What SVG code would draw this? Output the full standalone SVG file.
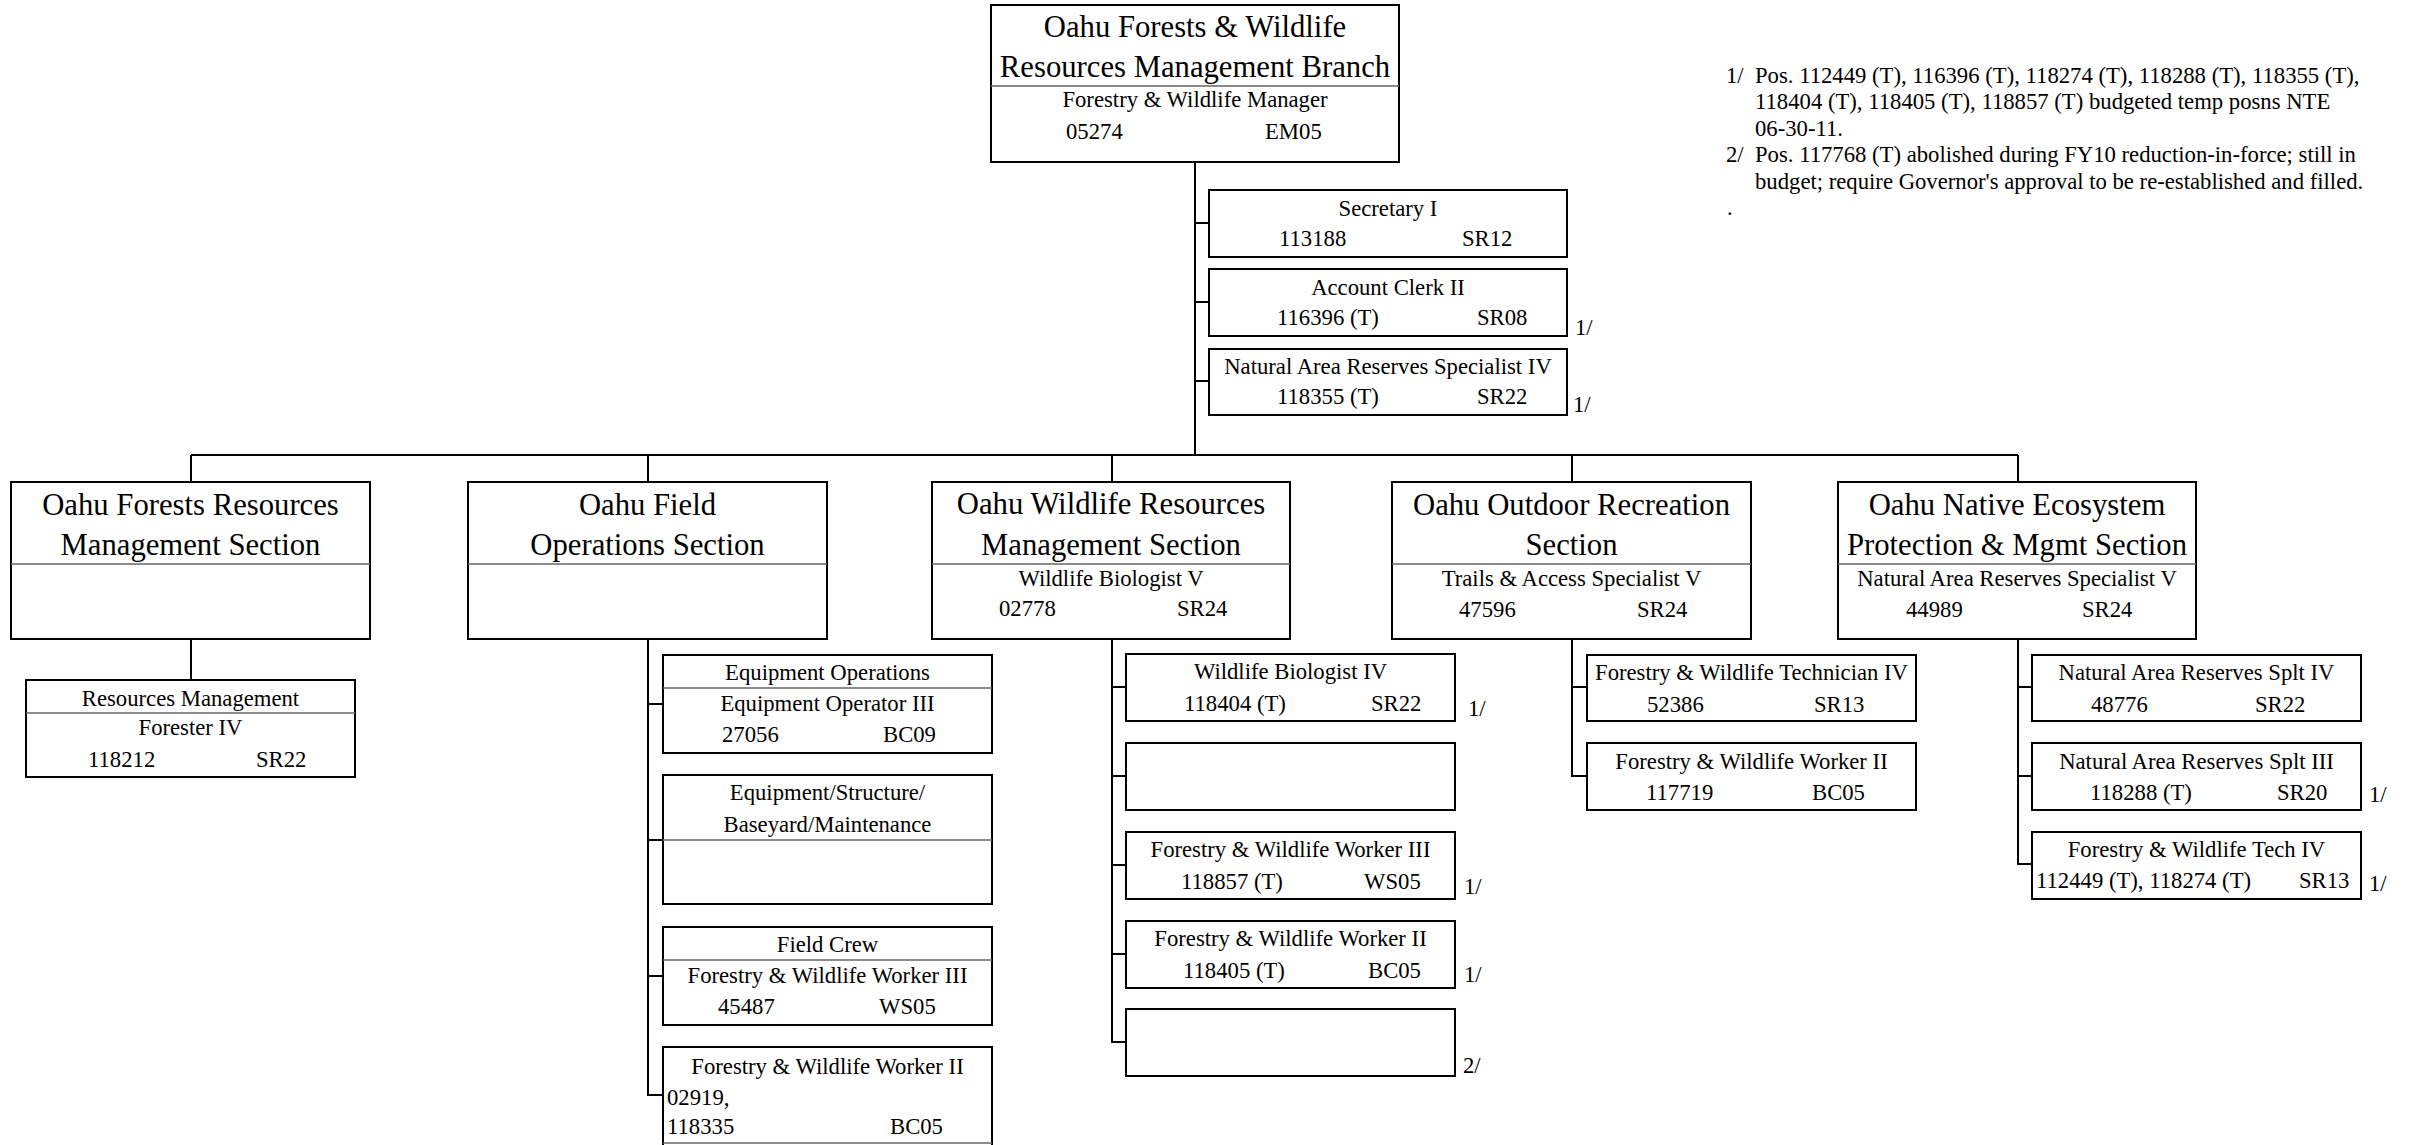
<svg xmlns="http://www.w3.org/2000/svg" width="2414" height="1145" viewBox="0 0 2414 1145">
<style>
.box{fill:#fff;stroke:#000;stroke-width:2}
.dv{stroke:#666;stroke-width:1.4}
.ln{stroke:#000;stroke-width:2;fill:none}
text{font-family:"Liberation Serif","Times New Roman",serif;font-size:22.7px;fill:#000}
.h{font-size:30.7px}
.c{text-anchor:middle}
</style>
<rect width="2414" height="1145" fill="#fff"/>
<g id="connectors">
<path class="ln" d="M1195,162V455M191,455H2018M191,455V482M648,455V482M1112,455V483M1572,455V482M2018,455V482"/>
<path class="ln" d="M1195,223H1209M1195,302H1209M1195,381H1209"/>
<path class="ln" d="M191,639V680"/>
<path class="ln" d="M648,639V1095H663M648,704H663M648,840H663M648,976H663"/>
<path class="ln" d="M1112,639V1042H1126M1112,687H1126M1112,776H1126M1112,865H1126M1112,954H1126"/>
<path class="ln" d="M1572,639V776H1587M1572,687H1587"/>
<path class="ln" d="M2018,639V864H2032M2018,687H2032M2018,776H2032"/>
</g>
<g id="branch">
<rect class="box" x="991" y="5" width="408" height="157"/>
<line class="dv" x1="991" y1="86" x2="1399" y2="86"/>
<text class="h c" x="1195" y="37">Oahu Forests &amp; Wildlife</text>
<text class="h c" x="1195" y="77">Resources Management Branch</text>
<text class="c" x="1195" y="107">Forestry &amp; Wildlife Manager</text>
<text x="1066" y="139">05274</text>
<text x="1265" y="139">EM05</text>
</g>
<g id="secretary">
<rect class="box" x="1209" y="190" width="358" height="67"/>
<text class="c" x="1388" y="216">Secretary I</text>
<text x="1279" y="246">113188</text>
<text x="1462" y="246">SR12</text>
</g>
<g id="account-clerk">
<rect class="box" x="1209" y="269" width="358" height="67"/>
<text class="c" x="1388" y="295">Account Clerk II</text>
<text x="1277" y="325">116396 (T)</text>
<text x="1477" y="325">SR08</text>
<text x="1575" y="335">1/</text>
</g>
<g id="nars-iv">
<rect class="box" x="1209" y="349" width="358" height="66"/>
<text class="c" x="1388" y="374">Natural Area Reserves Specialist IV</text>
<text x="1277" y="404">118355 (T)</text>
<text x="1477" y="404">SR22</text>
<text x="1573" y="412">1/</text>
</g>
<g id="notes">
<text x="1726" y="82.5">1/</text>
<text x="1755" y="82.5">Pos. 112449 (T), 116396 (T), 118274 (T), 118288 (T), 118355 (T),</text>
<text x="1755" y="109">118404 (T), 118405 (T), 118857 (T) budgeted temp posns NTE</text>
<text x="1755" y="135.5">06-30-11.</text>
<text x="1726" y="162">2/</text>
<text x="1755" y="162">Pos. 117768 (T) abolished during FY10 reduction-in-force; still in</text>
<text x="1755" y="188.5">budget; require Governor's approval to be re-established and filled.</text>
<text x="1727" y="215">.</text>
</g>
<g id="forests-section">
<rect class="box" x="11" y="482" width="359" height="157"/>
<line class="dv" x1="11" y1="564" x2="370" y2="564"/>
<text class="h c" x="190.5" y="515">Oahu Forests Resources</text>
<text class="h c" x="190.5" y="555">Management Section</text>
</g>
<g id="forester-iv">
<rect class="box" x="26" y="680" width="329" height="97"/>
<line class="dv" x1="26" y1="713" x2="355" y2="713"/>
<text class="c" x="190.5" y="706">Resources Management</text>
<text class="c" x="190.5" y="735">Forester IV</text>
<text x="88" y="767">118212</text>
<text x="256" y="767">SR22</text>
</g>
<g id="field-section">
<rect class="box" x="468" y="482" width="359" height="157"/>
<line class="dv" x1="468" y1="564" x2="827" y2="564"/>
<text class="h c" x="647.5" y="515">Oahu Field</text>
<text class="h c" x="647.5" y="555">Operations Section</text>
</g>
<g id="equipment-operations">
<rect class="box" x="663" y="655" width="329" height="98"/>
<line class="dv" x1="663" y1="688" x2="992" y2="688"/>
<text class="c" x="827.5" y="680">Equipment Operations</text>
<text class="c" x="827.5" y="711">Equipment Operator III</text>
<text x="722" y="742">27056</text>
<text x="883" y="742">BC09</text>
</g>
<g id="equipment-maintenance">
<rect class="box" x="663" y="775" width="329" height="129"/>
<line class="dv" x1="663" y1="840" x2="992" y2="840"/>
<text class="c" x="827.5" y="800">Equipment/Structure/</text>
<text class="c" x="827.5" y="832">Baseyard/Maintenance</text>
</g>
<g id="field-crew">
<rect class="box" x="663" y="927" width="329" height="98"/>
<line class="dv" x1="663" y1="960" x2="992" y2="960"/>
<text class="c" x="827.5" y="952">Field Crew</text>
<text class="c" x="827.5" y="983">Forestry &amp; Wildlife Worker III</text>
<text x="718" y="1014">45487</text>
<text x="879" y="1014">WS05</text>
</g>
<g id="field-worker-ii">
<rect class="box" x="663" y="1047" width="329" height="110"/>
<line class="dv" x1="663" y1="1143" x2="992" y2="1143"/>
<text class="c" x="827.5" y="1074">Forestry &amp; Wildlife Worker II</text>
<text x="667" y="1105">02919,</text>
<text x="667" y="1134">118335</text>
<text x="890" y="1134">BC05</text>
</g>
<g id="wildlife-section">
<rect class="box" x="932" y="482" width="358" height="157"/>
<line class="dv" x1="932" y1="564" x2="1290" y2="564"/>
<text class="h c" x="1111" y="514">Oahu Wildlife Resources</text>
<text class="h c" x="1111" y="555">Management Section</text>
<text class="c" x="1111" y="586">Wildlife Biologist V</text>
<text x="999" y="616">02778</text>
<text x="1177" y="616">SR24</text>
</g>
<g id="wildlife-biologist-iv">
<rect class="box" x="1126" y="654" width="329" height="67"/>
<text class="c" x="1290.5" y="679">Wildlife Biologist IV</text>
<text x="1184" y="711">118404 (T)</text>
<text x="1371" y="711">SR22</text>
<text x="1468" y="716">1/</text>
</g>
<g id="wildlife-blank-1">
<rect class="box" x="1126" y="743" width="329" height="67"/>
</g>
<g id="wildlife-worker-iii">
<rect class="box" x="1126" y="832" width="329" height="67"/>
<text class="c" x="1290.5" y="857">Forestry &amp; Wildlife Worker III</text>
<text x="1181" y="889">118857 (T)</text>
<text x="1364" y="889">WS05</text>
<text x="1464" y="894">1/</text>
</g>
<g id="wildlife-worker-ii">
<rect class="box" x="1126" y="921" width="329" height="67"/>
<text class="c" x="1290.5" y="946">Forestry &amp; Wildlife Worker II</text>
<text x="1183" y="978">118405 (T)</text>
<text x="1368" y="978">BC05</text>
<text x="1464" y="982">1/</text>
</g>
<g id="wildlife-blank-2">
<rect class="box" x="1126" y="1009" width="329" height="67"/>
<text x="1463" y="1073">2/</text>
</g>
<g id="recreation-section">
<rect class="box" x="1392" y="482" width="359" height="157"/>
<line class="dv" x1="1392" y1="564" x2="1751" y2="564"/>
<text class="h c" x="1571.5" y="515">Oahu Outdoor Recreation</text>
<text class="h c" x="1571.5" y="555">Section</text>
<text class="c" x="1571.5" y="586">Trails &amp; Access Specialist V</text>
<text x="1459" y="617">47596</text>
<text x="1637" y="617">SR24</text>
</g>
<g id="recreation-technician-iv">
<rect class="box" x="1587" y="655" width="329" height="66"/>
<text class="c" x="1751.5" y="680">Forestry &amp; Wildlife Technician IV</text>
<text x="1647" y="712">52386</text>
<text x="1814" y="712">SR13</text>
</g>
<g id="recreation-worker-ii">
<rect class="box" x="1587" y="743" width="329" height="67"/>
<text class="c" x="1751.5" y="769">Forestry &amp; Wildlife Worker II</text>
<text x="1646" y="800">117719</text>
<text x="1812" y="800">BC05</text>
</g>
<g id="ecosystem-section">
<rect class="box" x="1838" y="482" width="358" height="157"/>
<line class="dv" x1="1838" y1="564" x2="2196" y2="564"/>
<text class="h c" x="2017" y="515">Oahu Native Ecosystem</text>
<text class="h c" x="2017" y="555">Protection &amp; Mgmt Section</text>
<text class="c" x="2017" y="586">Natural Area Reserves Specialist V</text>
<text x="1906" y="617">44989</text>
<text x="2082" y="617">SR24</text>
</g>
<g id="nars-splt-iv">
<rect class="box" x="2032" y="655" width="329" height="66"/>
<text class="c" x="2196.5" y="680">Natural Area Reserves Splt IV</text>
<text x="2091" y="712">48776</text>
<text x="2255" y="712">SR22</text>
</g>
<g id="nars-splt-iii">
<rect class="box" x="2032" y="743" width="329" height="67"/>
<text class="c" x="2196.5" y="769">Natural Area Reserves Splt III</text>
<text x="2090" y="800">118288 (T)</text>
<text x="2277" y="800">SR20</text>
<text x="2369" y="802">1/</text>
</g>
<g id="ecosystem-tech-iv">
<rect class="box" x="2032" y="832" width="329" height="67"/>
<text class="c" x="2196.5" y="857">Forestry &amp; Wildlife Tech IV</text>
<text x="2036" y="888">112449 (T), 118274 (T)</text>
<text x="2299" y="888">SR13</text>
<text x="2369" y="891">1/</text>
</g>
</svg>
